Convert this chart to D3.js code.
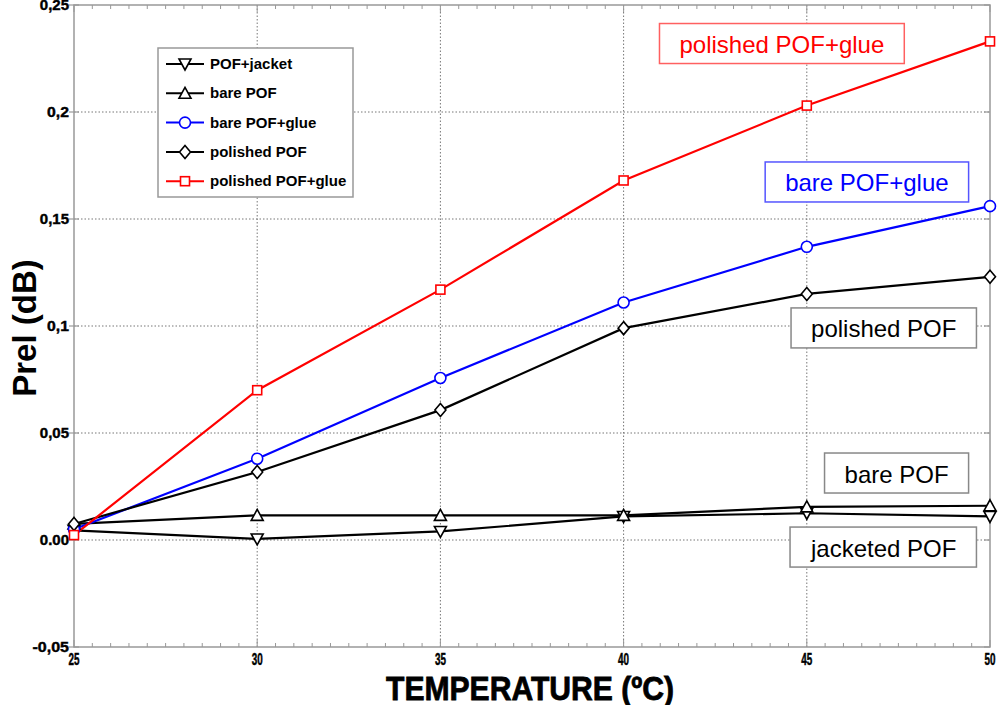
<!DOCTYPE html>
<html><head><meta charset="utf-8">
<script src="https://cdn.jsdelivr.net/npm/d3@7"></script>
<style>
html,body{margin:0;padding:0;background:#fff;}
svg{display:block;font-family:Arial,"Liberation Sans",sans-serif;}
</style></head>
<body><svg id="c" width="1000" height="705"></svg>
<script>
const temps = [25, 30, 35, 40, 45, 50];
const pofJacket = [0.0045, 0.0005, 0.004, 0.011, 0.0125, 0.011];
const barePOF = [0.0075, 0.0115, 0.0115, 0.0115, 0.0155, 0.016];
const bareGlue = [0.005, 0.038, 0.0757, 0.111, 0.137, 0.156];
const polishedPOF = [0.0075, 0.0318, 0.0607, 0.099, 0.115, 0.123];
const polishedGlue = [0.0023, 0.070, 0.117, 0.168, 0.203, 0.233];
const seriesNames = ["POF+jacket", "bare POF", "bare POF+glue", "polished POF", "polished POF+glue"];
const yTicks = [-0.05, 0, 0.05, 0.1, 0.15, 0.2, 0.25];
const yTickLabels = ["-0,05", "0.00", "0,05", "0,1", "0,15", "0,2", "0,25"];
const xTicks = [25, 30, 35, 40, 45, 50];
const annotations = [
  {text: "polished POF+glue", color: "#ff0000", border: "#ff6060", t: 44.32, v: 0.232},
  {text: "bare POF+glue", color: "#0000ff", border: "#5555ff", t: 46.64, v: 0.1673},
  {text: "polished POF", color: "#000", border: "#888", t: 47.1, v: 0.0991},
  {text: "bare POF", color: "#000", border: "#888", t: 47.45, v: 0.0313},
  {text: "jacketed POF", color: "#000", border: "#888", t: 47.1, v: -0.0033}
];

const series = [
  {name: seriesNames[0], vals: pofJacket, color: "#000", sym: "down"},
  {name: seriesNames[1], vals: barePOF, color: "#000", sym: "up"},
  {name: seriesNames[2], vals: bareGlue, color: "#0000ff", sym: "circle"},
  {name: seriesNames[3], vals: polishedPOF, color: "#000", sym: "diamond"},
  {name: seriesNames[4], vals: polishedGlue, color: "#ff0000", sym: "square"}
];

const svg = d3.select("#c");
const L = 74, R = 990, T = 5, B = 647;
const x = d3.scaleLinear().domain([25, 50]).range([L, R]);
const y = d3.scaleLinear().domain([-0.05, 0.25]).range([B, T]);

// grid
const g = svg.append("g");
g.selectAll(".gx").data(xTicks.slice(1, -1)).enter().append("line")
  .attr("x1", d => x(d)).attr("x2", d => x(d)).attr("y1", T).attr("y2", B)
  .attr("stroke", "#777").attr("stroke-width", 1).attr("stroke-dasharray", "1.5,2");
g.selectAll(".gy").data(yTicks.slice(1, -1)).enter().append("line")
  .attr("x1", L).attr("x2", R).attr("y1", d => y(d)).attr("y2", d => y(d))
  .attr("stroke", "#777").attr("stroke-width", 1).attr("stroke-dasharray", "1.5,2");

// frame
svg.append("rect").attr("x", L).attr("y", T).attr("width", R - L).attr("height", B - T)
  .attr("fill", "none").attr("stroke", "#999").attr("stroke-width", 1.5);

// minor ticks on x axis (bottom & top, inward)
const minor = d3.range(25, 50.01, 0.5);
svg.selectAll(".mb").data(minor).enter().append("line")
  .attr("x1", d => x(d)).attr("x2", d => x(d)).attr("y1", B).attr("y2", d => (d % 5 === 0) ? B - 7 : B - 4)
  .attr("stroke", "#999").attr("stroke-width", 1);
svg.selectAll(".mt").data(minor).enter().append("line")
  .attr("x1", d => x(d)).attr("x2", d => x(d)).attr("y1", T).attr("y2", d => (d % 5 === 0) ? T + 7 : T + 4)
  .attr("stroke", "#999").attr("stroke-width", 1);
// y ticks
svg.selectAll(".yl").data(yTicks).enter().append("line")
  .attr("x1", L - 5).attr("x2", L + 5).attr("y1", d => y(d)).attr("y2", d => y(d))
  .attr("stroke", "#999").attr("stroke-width", 1.2);
svg.selectAll(".yr").data(yTicks).enter().append("line")
  .attr("x1", R - 6).attr("x2", R).attr("y1", d => y(d)).attr("y2", d => y(d))
  .attr("stroke", "#999").attr("stroke-width", 1.2);

// y tick labels
svg.selectAll(".ytl").data(yTicks).enter().append("text")
  .attr("x", L - 5).attr("y", d => y(d) + 5)
  .attr("text-anchor", "end").attr("font-weight", "bold").attr("font-size", 14)
  .attr("stroke", "#000").attr("stroke-width", 0.4)
  .attr("textLength", (d, i) => yTickLabels[i].length * 7.3).attr("lengthAdjust", "spacingAndGlyphs")
  .text((d, i) => yTickLabels[i]);

// x tick labels (condensed)
svg.selectAll(".xtl").data(xTicks).enter().append("text")
  .attr("x", d => x(d)).attr("y", 665)
  .attr("text-anchor", "middle").attr("font-weight", "bold").attr("font-size", 17)
  .attr("stroke", "#000").attr("stroke-width", 0.5)
  .attr("textLength", 11).attr("lengthAdjust", "spacingAndGlyphs")
  .text(d => d);

// axis titles
svg.append("text").attr("transform", "translate(36,328) rotate(-90)")
  .attr("text-anchor", "middle").attr("font-weight", "bold").attr("font-size", 33)
  .text("Prel (dB)");
svg.append("text").attr("x", 530).attr("y", 700)
  .attr("text-anchor", "middle").attr("font-weight", "bold").attr("font-size", 34)
  .attr("stroke", "#000").attr("stroke-width", 0.8)
  .attr("textLength", 288).attr("lengthAdjust", "spacingAndGlyphs")
  .text("TEMPERATURE (ºC)");

// markers
function drawMarker(sel, sym, color) {
  if (sym === "circle") {
    sel.append("circle").attr("r", 5.5).attr("fill", "#fff").attr("stroke", color).attr("stroke-width", 1.6);
  } else if (sym === "square") {
    sel.append("rect").attr("x", -4.5).attr("y", -4.5).attr("width", 9).attr("height", 9)
      .attr("fill", "#fff").attr("stroke", color).attr("stroke-width", 1.6);
  } else if (sym === "diamond") {
    sel.append("path").attr("d", "M0,-6.5L5.5,0L0,6.5L-5.5,0Z").attr("fill", "#fff").attr("stroke", color).attr("stroke-width", 1.6);
  } else if (sym === "up") {
    sel.append("path").attr("d", "M0,-6L6,5L-6,5Z").attr("fill", "#fff").attr("stroke", color).attr("stroke-width", 1.6);
  } else if (sym === "down") {
    sel.append("path").attr("d", "M0,6L6,-5L-6,-5Z").attr("fill", "#fff").attr("stroke", color).attr("stroke-width", 1.6);
  }
}

const line = d3.line().x((d, i) => x(temps[i])).y(d => y(d));
series.forEach(s => {
  svg.append("path").attr("d", line(s.vals)).attr("fill", "none")
    .attr("stroke", s.color).attr("stroke-width", 2.2);
});
series.forEach(s => {
  s.vals.forEach((v, i) => {
    const m = svg.append("g").attr("transform", `translate(${x(temps[i])},${y(v)})`);
    drawMarker(m, s.sym, s.color);
  });
});

// annotation boxes
annotations.forEach(a => {
  const gg = svg.append("g");
  const t = gg.append("text").attr("x", x(a.t)).attr("y", y(a.v) + 1)
    .attr("text-anchor", "middle").attr("dominant-baseline", "central")
    .attr("font-size", 24).attr("fill", a.color).text(a.text);
  const bb = t.node().getBBox();
  gg.insert("rect", "text").attr("x", bb.x - 20).attr("y", y(a.v) - 20)
    .attr("width", bb.width + 40).attr("height", 40)
    .attr("fill", "#fff").attr("stroke", a.border).attr("stroke-width", 1.5);
});

// legend
const lg = svg.append("g");
lg.append("rect").attr("x", 158).attr("y", 48).attr("width", 195).attr("height", 149)
  .attr("fill", "#fff").attr("stroke", "#999").attr("stroke-width", 1.5);
series.forEach((s, i) => {
  const yy = 64 + i * 29.3;
  lg.append("line").attr("x1", 166).attr("x2", 204).attr("y1", yy).attr("y2", yy)
    .attr("stroke", s.color).attr("stroke-width", 2);
  const m = lg.append("g").attr("transform", `translate(185,${yy})`);
  drawMarker(m, s.sym, s.color);
  lg.append("text").attr("x", 210).attr("y", yy + 5).attr("font-size", 15).attr("font-weight", "bold")
    .attr("fill", "#000").text(s.name);
});
</script></body></html>
